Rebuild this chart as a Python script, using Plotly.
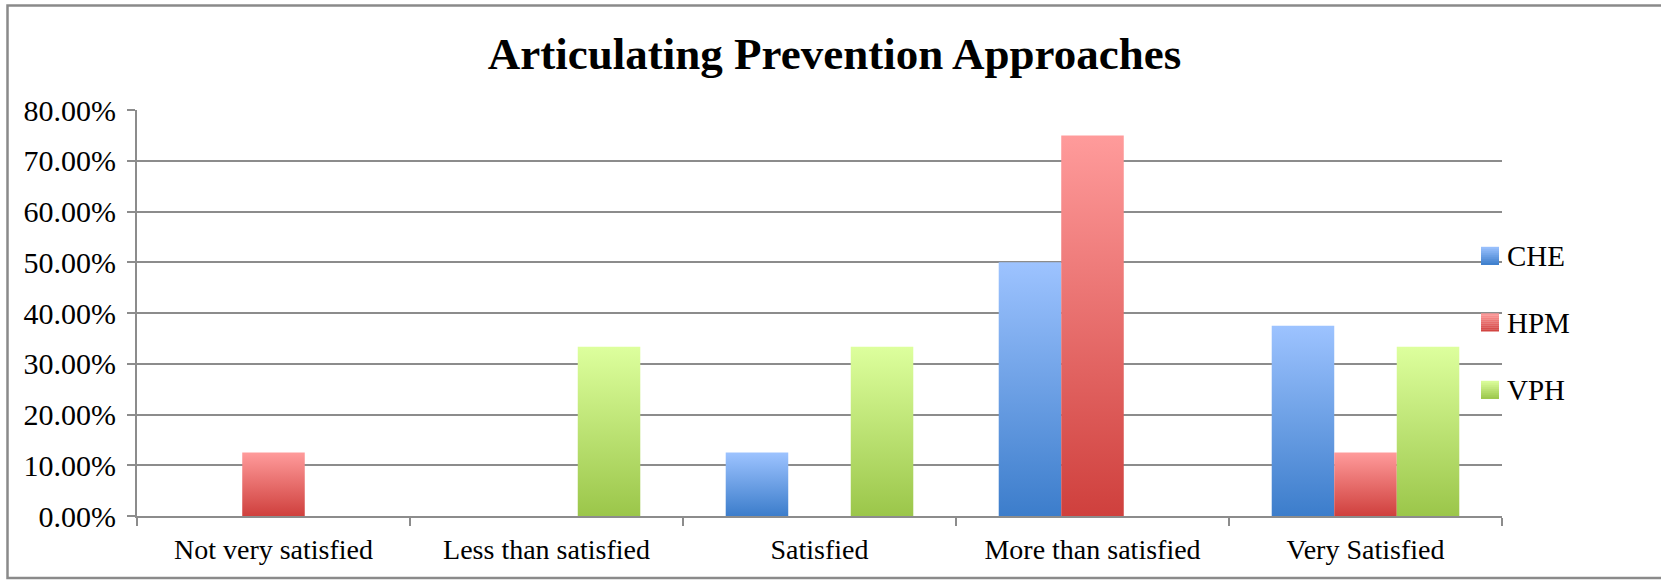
import plotly.graph_objects as go

# ---- data -------------------------------------------------------------
categories = ["Not very satisfied", "Less than satisfied", "Satisfied",
              "More than satisfied", "Very Satisfied"]
series_names = ["CHE", "HPM", "VPH"]
che_values = [0.0, 0.0, 0.125, 0.50, 0.375]
hpm_values = [0.125, 0.0, 0.0, 0.75, 0.125]
vph_values = [0.0, 0.3333, 0.3333, 0.0, 0.3333]
y_tick_values = [0.0, 0.1, 0.2, 0.3, 0.4, 0.5, 0.6, 0.7, 0.8]
y_tick_labels = ["0.00%", "10.00%", "20.00%", "30.00%", "40.00%",
                 "50.00%", "60.00%", "70.00%", "80.00%"]

series_values = [che_values, hpm_values, vph_values]
# (bottom colour, top colour) of each series' vertical gradient
series_gradients = [("#3C7DCB", "#9DC3FF"),
                    ("#CF403D", "#FF9B9B"),
                    ("#9BC64A", "#DDFF9D")]

# ---- geometry / style -------------------------------------------------
W, H = 1661, 583
M_L, M_R, M_T, M_B = 137, 159, 110, 67
PLOT_W = W - M_L - M_R
PLOT_H = H - M_T - M_B
BAR_W = 0.229            # bar width in category units
GRID = "#8C8C8C"
FONT = "Liberation Serif, Times New Roman, serif"


def px_to_paper(x, y):
    return (x - M_L) / PLOT_W, (H - M_B - y) / PLOT_H


fig = go.Figure()

# gradient-filled bars, one polygon per non-zero value
n_series = len(series_names)
for j, (name, vals, (c_bot, c_top)) in enumerate(
        zip(series_names, series_values, series_gradients)):
    for i, v in enumerate(vals):
        if v <= 0:
            continue
        xc = i + (j - (n_series - 1) / 2) * BAR_W
        x0, x1 = xc - BAR_W / 2, xc + BAR_W / 2
        fig.add_trace(go.Scatter(
            x=[x0, x0, x1, x1, x0], y=[0, v, v, 0, 0],
            mode="lines", line=dict(width=0), fill="toself",
            fillcolor=c_top,
            fillgradient=dict(type="vertical",
                              colorscale=[[0, c_bot], [1, c_top]],
                              start=0, stop=v),
            name=name, legendgroup=name, showlegend=False,
            hovertemplate=f"{categories[i]}<br>{name}: {v:.2%}<extra></extra>",
        ))

shapes = []
annotations = []

# legend: gradient swatch built from thin strips + label
legend_centers = [256, 322.5, 390]
SW_X0, SW_X1, SW_H, STRIPS = 1481, 1499, 18, 9


def mix(c1, c2, t):
    a = [int(c1[k:k + 2], 16) for k in (1, 3, 5)]
    b = [int(c2[k:k + 2], 16) for k in (1, 3, 5)]
    return "#" + "".join(f"{round(a[k] + (b[k] - a[k]) * t):02X}" for k in range(3))


for name, (c_bot, c_top), cy in zip(series_names, series_gradients, legend_centers):
    top = cy - SW_H / 2
    for s in range(STRIPS):
        y0 = top + s * SW_H / STRIPS
        y1 = y0 + SW_H / STRIPS
        px0, py0 = px_to_paper(SW_X0, y1)
        px1, py1 = px_to_paper(SW_X1, y0)
        shapes.append(dict(type="rect", xref="paper", yref="paper",
                           x0=px0, x1=px1, y0=py0, y1=py1 + 0.0005,
                           fillcolor=mix(c_top, c_bot, (s + 0.5) / STRIPS),
                           line=dict(width=0), layer="above"))
    ax, ay = px_to_paper(1505, cy)
    annotations.append(dict(text=name, xref="paper", yref="paper", x=ax, y=ay,
                            xanchor="left", yanchor="middle", showarrow=False,
                            font=dict(family=FONT, size=29, color="#000000")))

# outer frame of the chart
fx0, fy0 = px_to_paper(7.5, 578)
fx1, fy1 = px_to_paper(1670, 5.5)
shapes.append(dict(type="rect", xref="paper", yref="paper",
                   x0=fx0, x1=fx1, y0=fy0, y1=fy1,
                   line=dict(color="#8A8A8A", width=2.5), layer="below"))

boundaries = [k - 0.5 for k in range(len(categories) + 1)]

fig.update_layout(
    width=W, height=H,
    margin=dict(l=M_L, r=M_R, t=M_T, b=M_B),
    paper_bgcolor="#FFFFFF", plot_bgcolor="#FFFFFF",
    showlegend=False,
    font=dict(family=FONT, size=28, color="#000000"),
    title=dict(text="<b>Articulating Prevention Approaches</b>",
               x=834.5 / W, xref="container", xanchor="center",
               y=1 - 53 / H, yref="container", yanchor="middle",
               font=dict(family=FONT, size=45, color="#000000")),
    xaxis=dict(range=[-0.5, len(categories) - 0.5], tickmode="array",
               tickvals=list(range(len(categories))), ticktext=categories,
               ticks="", showgrid=False, zeroline=False,
               showline=True, linecolor=GRID, linewidth=2,
               ticklabelstandoff=7,
               tickfont=dict(family=FONT, size=28),
               minor=dict(tickmode="array", tickvals=boundaries,
                          ticks="outside", ticklen=8, tickwidth=2,
                          tickcolor=GRID, showgrid=False),
               fixedrange=True),
    yaxis=dict(range=[0, 0.8], tickmode="array", tickvals=y_tick_values,
               ticktext=y_tick_labels, ticks="outside", ticklen=8,
               tickwidth=2, tickcolor=GRID,
               showgrid=True, gridcolor=GRID, gridwidth=2,
               zeroline=False, showline=True, linecolor=GRID, linewidth=2,
               tickfont=dict(family=FONT, size=30),
               ticklabelstandoff=5, fixedrange=True),
    shapes=shapes,
    annotations=annotations,
)

fig.write_html("out.html")
